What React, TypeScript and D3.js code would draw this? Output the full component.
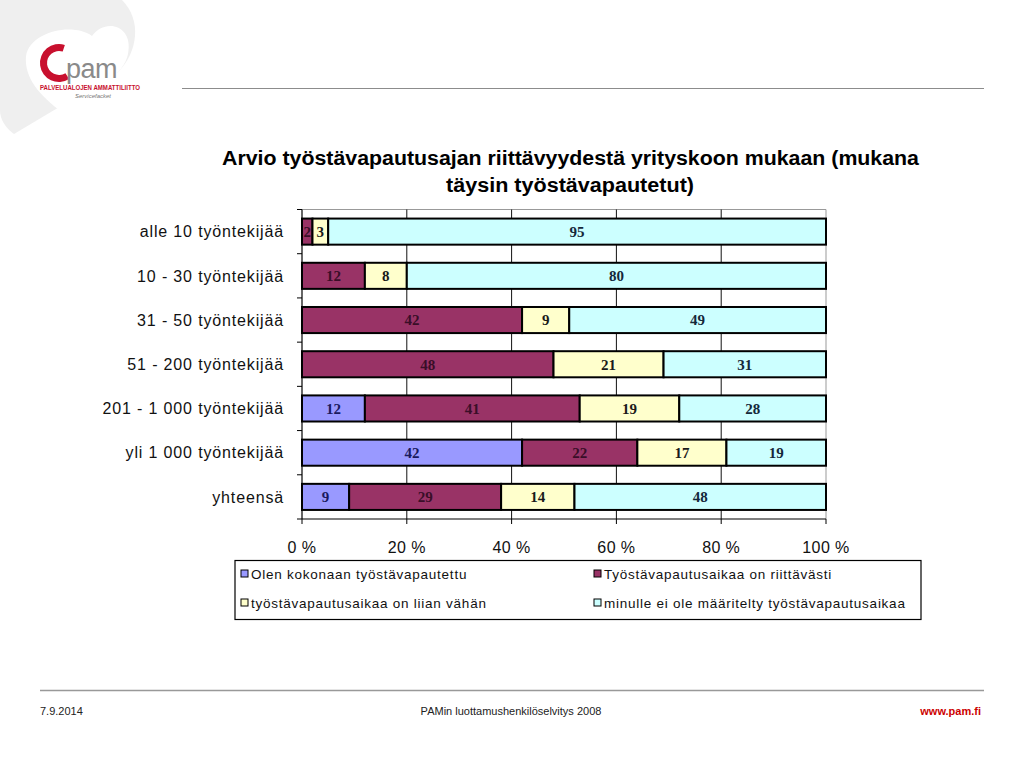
import React from "react";
import * as d3 from "d3";

const categories = [
  "alle 10 työntekijää",
  "10 - 30 työntekijää",
  "31 - 50 työntekijää",
  "51 - 200 työntekijää",
  "201 - 1 000 työntekijää",
  "yli 1 000 työntekijää",
  "yhteensä",
];
const seriesNames = [
  "Olen kokonaan työstävapautettu",
  "Työstävapautusaikaa on riittävästi",
  "työstävapautusaikaa on liian vähän",
  "minulle ei ole määritelty työstävapautusaikaa",
];
const kokonaan = [0, 0, 0, 0, 12, 42, 9];
const riittavasti = [2, 12, 42, 48, 41, 22, 29];
const liianVahan = [3, 8, 9, 21, 19, 17, 14];
const eiMaaritelty = [95, 80, 49, 31, 28, 19, 48];
const xTicks = [0, 20, 40, 60, 80, 100];
const xTickLabels = ["0 %", "20 %", "40 %", "60 %", "80 %", "100 %"];

const colors = ["#9999FF", "#993366", "#FFFFCC", "#CCFFFF"];
const labelColors = ["#1a1a5e", "#3a0e28", "#1a1a1a", "#14283a"];

export default function App() {
  const x = d3.scaleLinear().domain([0, 100]).range([302, 826]);
  const y = d3
    .scaleBand<string>()
    .domain(categories)
    .range([209.5, 519])
    .paddingInner(0.41)
    .paddingOuter(0.205);
  const step = y.step();
  const seriesData = [kokonaan, riittavasti, liianVahan, eiMaaritelty];
  const table = categories.map((c, i) => {
    let acc = 0;
    return seriesData.map((s, k) => {
      const v = s[i];
      const seg = { cat: c, k, v, x0: acc, x1: acc + v };
      acc += v;
      return seg;
    });
  });

  const cArc = d3.arc()({
    innerRadius: 12,
    outerRadius: 19,
    startAngle: Math.PI * 0.82,
    endAngle: Math.PI * 2.1,
  } as any) as string;

  return (
    <svg width={1024} height={768} style={{ position: "absolute", left: 0, top: 0, background: "#fff" }}>
      <rect x={0} y={0} width={1024} height={768} fill="#fff" />
      {/* logo background */}
      <path d="M0,0 L122,0 C142,20 138,52 118,72 L14,134 C6,128 0,120 0,110 Z" fill="#efefef" />
      <path d="M92,36 C104,18 134,24 128,54 C124,74 100,88 62,112 C40,96 24,78 26,56 C30,32 72,22 92,36 Z" fill="#ffffff" />
      <path d={cArc} transform="translate(59,63)" fill="#c8102e" />
      <text x={66} y={78} fontFamily="Arial, Liberation Sans, sans-serif" fontSize={27} fill="#8a8a8a" letterSpacing={-0.5}>pam</text>
      <text x={40} y={90} fontFamily="Arial, Liberation Sans, sans-serif" fontSize={6.3} fontWeight="bold" fill="#c8102e" textLength={100} lengthAdjust="spacingAndGlyphs">PALVELUALOJEN AMMATTILIITTO</text>
      <text x={75} y={98} fontFamily="Arial, Liberation Sans, sans-serif" fontSize={6} fontStyle="italic" fill="#777">Servicefacket</text>

      {/* header line */}
      <line x1={182} x2={984} y1={88.5} y2={88.5} stroke="#8c8c8c" strokeWidth={1.2} />

      {/* title */}
      <g fontFamily="Arial, Liberation Sans, sans-serif" fontWeight="bold" fontSize={20} fill="#000" textAnchor="middle">
        <text x={570.5} y={165} textLength={697} lengthAdjust="spacingAndGlyphs">Arvio työstävapautusajan riittävyydestä yrityskoon mukaan (mukana</text>
        <text x={570} y={192} textLength={248} lengthAdjust="spacingAndGlyphs">täysin työstävapautetut)</text>
      </g>

      {/* plot frame */}
      <line x1={x(0)} x2={x(100)} y1={209.5} y2={209.5} stroke="#999" strokeWidth={1} />
      <line x1={x(100)} x2={x(100)} y1={209.5} y2={519} stroke="#999" strokeWidth={1} />
      {xTicks.slice(1, -1).map((t) => (
        <line key={t} x1={x(t)} x2={x(t)} y1={209.5} y2={519} stroke="#111" strokeWidth={1} />
      ))}

      {/* bars */}
      {table.map((row) =>
        row.map((s) =>
          s.v > 0 ? (
            <rect
              key={s.cat + s.k}
              x={x(s.x0)}
              y={y(s.cat)!}
              width={x(s.x1) - x(s.x0)}
              height={y.bandwidth()}
              fill={colors[s.k]}
              stroke="#000"
              strokeWidth={2}
            />
          ) : null
        )
      )}
      {table.map((row) =>
        row.map((s) =>
          s.v > 0 ? (
            <text
              key={"l" + s.cat + s.k}
              x={(x(s.x0) + x(s.x1)) / 2}
              y={y(s.cat)! + y.bandwidth() / 2}
              dy="0.36em"
              textAnchor="middle"
              fontFamily="Liberation Serif, Times New Roman, serif"
              fontWeight="bold"
              fontSize={15}
              fill={labelColors[s.k]}
            >
              {s.v}
            </text>
          ) : null
        )
      )}

      {/* axes */}
      <line x1={x(0)} x2={x(0)} y1={209.5} y2={519} stroke="#000" strokeWidth={1.2} />
      {d3.range(categories.length + 1).map((i) => (
        <line key={i} x1={x(0) - 5} x2={x(0)} y1={209.5 + i * step} y2={209.5 + i * step} stroke="#000" strokeWidth={1} />
      ))}
      <line x1={x(0)} x2={x(100)} y1={519} y2={519} stroke="#000" strokeWidth={1.2} />
      {xTicks.map((t) => (
        <line key={t} x1={x(t)} x2={x(t)} y1={519} y2={524} stroke="#000" strokeWidth={1} />
      ))}
      {xTicks.map((t, i) => (
        <text key={t} x={x(t)} y={553} textAnchor="middle" fontFamily="Arial, Liberation Sans, sans-serif" fontSize={16} letterSpacing={0.4} fill="#111">
          {xTickLabels[i]}
        </text>
      ))}
      {categories.map((c) => (
        <text key={c} x={284} y={y(c)! + y.bandwidth() / 2} dy="0.36em" textAnchor="end" fontFamily="Arial, Liberation Sans, sans-serif" fontSize={16} letterSpacing={0.85} fill="#111">
          {c}
        </text>
      ))}

      {/* legend */}
      <rect x={235} y={560.5} width={686} height={59} fill="#fff" stroke="#000" strokeWidth={1.2} />
      {seriesNames.map((n, i) => {
        const lx = i % 2 === 0 ? 241 : 594;
        const ly = i < 2 ? 574 : 603;
        return (
          <g key={n}>
            <rect x={lx} y={ly - 4} width={7} height={7} fill={colors[i]} stroke="#000" strokeWidth={1} />
            <text x={lx + 10} y={ly} dy="0.36em" fontFamily="Arial, Liberation Sans, sans-serif" fontSize={13.5} letterSpacing={0.75} fill="#111">
              {n}
            </text>
          </g>
        );
      })}

      {/* footer */}
      <line x1={40} x2={984} y1={690.5} y2={690.5} stroke="#999" strokeWidth={1.5} />
      <g fontFamily="Arial, Liberation Sans, sans-serif" fontSize={11} fill="#222">
        <text x={40} y={715}>7.9.2014</text>
        <text x={511} y={715} textAnchor="middle">PAMin luottamushenkilöselvitys 2008</text>
        <text x={981} y={715} textAnchor="end" fill="#cc0000" fontWeight="bold">www.pam.fi</text>
      </g>
    </svg>
  );
}
